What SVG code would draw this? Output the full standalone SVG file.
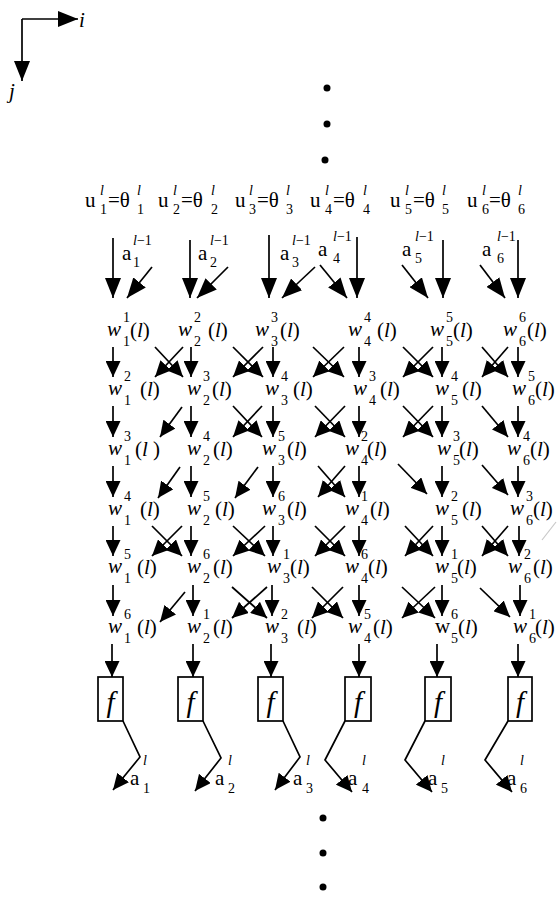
<svg xmlns="http://www.w3.org/2000/svg" width="560" height="897" viewBox="0 0 560 897">
<style>
text{font-family:"Liberation Serif","Times New Roman","DejaVu Serif",serif;fill:#000}
.m{font-size:21px}
.s{font-size:14px}
.it{font-style:italic}
.fx{font-size:29px;font-style:italic}
.ln{stroke:#000;stroke-width:1.7;fill:none}
.a{marker-end:url(#ah)}
.aL{marker-end:url(#ahL)}
.box{fill:#fff;stroke:#000;stroke-width:1.7}
</style>
<defs>
<marker id="ah" markerUnits="userSpaceOnUse" markerWidth="16" markerHeight="15" viewBox="0 0 16 15" refX="16" refY="7.5" orient="auto"><path d="M0,0 L16,7.5 L0,15 z" fill="#000"/></marker>
<marker id="ahL" markerUnits="userSpaceOnUse" markerWidth="20" markerHeight="16" viewBox="0 0 20 16" refX="20" refY="8" orient="auto"><path d="M0,0 L20,8 L0,16 z" fill="#000"/></marker>
</defs>
<rect width="560" height="897" fill="#fff"/>

<g id="axes">
<line class="ln aL" x1="22" y1="19" x2="78" y2="19"/>
<line class="ln aL" x1="22" y1="19" x2="22" y2="81"/>
<text class="m it" x="79" y="27">i</text>
<text class="m it" x="9" y="98">j</text>
</g>

<g id="dots">
<circle cx="327" cy="88" r="3.5"/><circle cx="327" cy="124" r="3.5"/><circle cx="325" cy="160" r="3.5"/>
<circle cx="323" cy="818" r="3.5"/><circle cx="323" cy="853" r="3.5"/><circle cx="323" cy="887" r="3.5"/>
</g>

<g id="thresholds">
<g id="u1"><text class="m" x="85" y="207">u</text><text class="s it" x="100" y="195">l</text><text class="s" x="100" y="214">1</text><text class="m" x="108" y="207">=θ</text><text class="s it" x="137" y="195">l</text><text class="s" x="137" y="214">1</text></g>
<g id="u2"><text class="m" x="158" y="207">u</text><text class="s it" x="173" y="195">l</text><text class="s" x="173" y="214">2</text><text class="m" x="181" y="207">=θ</text><text class="s it" x="211" y="195">l</text><text class="s" x="211" y="214">2</text></g>
<g id="u3"><text class="m" x="235" y="207">u</text><text class="s it" x="249" y="195">l</text><text class="s" x="249" y="214">3</text><text class="m" x="257" y="207">=θ</text><text class="s it" x="286" y="195">l</text><text class="s" x="286" y="214">3</text></g>
<g id="u4"><text class="m" x="310" y="207">u</text><text class="s it" x="325" y="195">l</text><text class="s" x="325" y="214">4</text><text class="m" x="333" y="207">=θ</text><text class="s it" x="363" y="195">l</text><text class="s" x="363" y="214">4</text></g>
<g id="u5"><text class="m" x="390" y="207">u</text><text class="s it" x="405" y="195">l</text><text class="s" x="405" y="214">5</text><text class="m" x="413" y="207">=θ</text><text class="s it" x="442" y="195">l</text><text class="s" x="442" y="214">5</text></g>
<g id="u6"><text class="m" x="467" y="207">u</text><text class="s it" x="482" y="195">l</text><text class="s" x="482" y="214">6</text><text class="m" x="489" y="207">=θ</text><text class="s it" x="518" y="195">l</text><text class="s" x="518" y="214">6</text></g>
</g>

<g id="inputs">
<g id="ain1"><text class="m" x="122" y="260">a</text><text class="s" x="133" y="245"><tspan class="it">l</tspan>−1</text><text class="s" x="133" y="267">1</text></g>
<g id="ain2"><text class="m" x="198" y="260">a</text><text class="s" x="210" y="245"><tspan class="it">l</tspan>−1</text><text class="s" x="210" y="267">2</text></g>
<g id="ain3"><text class="m" x="280" y="260">a</text><text class="s" x="292" y="245"><tspan class="it">l</tspan>−1</text><text class="s" x="292" y="267">3</text></g>
<g id="ain4"><text class="m" x="318" y="256">a</text><text class="s" x="333" y="241"><tspan class="it">l</tspan>−1</text><text class="s" x="333" y="263">4</text></g>
<g id="ain5"><text class="m" x="402" y="256">a</text><text class="s" x="415" y="241"><tspan class="it">l</tspan>−1</text><text class="s" x="415" y="263">5</text></g>
<g id="ain6"><text class="m" x="482" y="256">a</text><text class="s" x="497" y="241"><tspan class="it">l</tspan>−1</text><text class="s" x="497" y="263">6</text></g>
</g>

<g id="weights">
<g id="w-r1-c1"><text class="m it" x="107" y="336">w</text><text class="s" x="123" y="322">1</text><text class="s" x="123" y="346">1</text><text class="m" x="130" y="337">(<tspan class="it">l</tspan>)</text></g>
<g id="w-r1-c2"><text class="m it" x="178" y="336">w</text><text class="s" x="194" y="322">2</text><text class="s" x="194" y="346">2</text><text class="m" x="208" y="337">(<tspan class="it">l</tspan>)</text></g>
<g id="w-r1-c3"><text class="m it" x="255" y="336">w</text><text class="s" x="271" y="322">3</text><text class="s" x="271" y="346">3</text><text class="m" x="280" y="337">(<tspan class="it">l</tspan>)</text></g>
<g id="w-r1-c4"><text class="m it" x="348" y="336">w</text><text class="s" x="364" y="322">4</text><text class="s" x="364" y="346">4</text><text class="m" x="377" y="337">(<tspan class="it">l</tspan>)</text></g>
<g id="w-r1-c5"><text class="m it" x="430" y="336">w</text><text class="s" x="446" y="322">5</text><text class="s" x="446" y="346">5</text><text class="m" x="453" y="337">(<tspan class="it">l</tspan>)</text></g>
<g id="w-r1-c6"><text class="m it" x="503" y="336">w</text><text class="s" x="519" y="322">6</text><text class="s" x="519" y="346">6</text><text class="m" x="527" y="337">(<tspan class="it">l</tspan>)</text></g>

<g id="w-r2-c1"><text class="m it" x="108" y="395">w</text><text class="s" x="124" y="381">2</text><text class="s" x="124" y="405">1</text><text class="m" x="140" y="396">(<tspan class="it">l</tspan>)</text></g>
<g id="w-r2-c2"><text class="m it" x="187" y="395">w</text><text class="s" x="203" y="381">3</text><text class="s" x="203" y="405">2</text><text class="m" x="212" y="396">(<tspan class="it">l</tspan>)</text></g>
<g id="w-r2-c3"><text class="m it" x="265" y="395">w</text><text class="s" x="281" y="381">4</text><text class="s" x="281" y="405">3</text><text class="m" x="293" y="396">(<tspan class="it">l</tspan>)</text></g>
<g id="w-r2-c4"><text class="m it" x="353" y="395">w</text><text class="s" x="369" y="381">3</text><text class="s" x="369" y="405">4</text><text class="m" x="380" y="396">(<tspan class="it">l</tspan>)</text></g>
<g id="w-r2-c5"><text class="m it" x="435" y="395">w</text><text class="s" x="451" y="381">4</text><text class="s" x="451" y="405">5</text><text class="m" x="462" y="396">(<tspan class="it">l</tspan>)</text></g>
<g id="w-r2-c6"><text class="m it" x="512" y="395">w</text><text class="s" x="528" y="381">5</text><text class="s" x="528" y="405">6</text><text class="m" x="535" y="396">(<tspan class="it">l</tspan>)</text></g>

<g id="w-r3-c1"><text class="m it" x="108" y="455">w</text><text class="s" x="124" y="441">3</text><text class="s" x="124" y="465">1</text><text class="m" x="135" y="456">(<tspan class="it">l</tspan> )</text></g>
<g id="w-r3-c2"><text class="m it" x="187" y="455">w</text><text class="s" x="203" y="441">4</text><text class="s" x="203" y="465">2</text><text class="m" x="213" y="456">(<tspan class="it">l</tspan>)</text></g>
<g id="w-r3-c3"><text class="m it" x="262" y="455">w</text><text class="s" x="278" y="441">5</text><text class="s" x="278" y="465">3</text><text class="m" x="287" y="456">(<tspan class="it">l</tspan>)</text></g>
<g id="w-r3-c4"><text class="m it" x="345" y="455">w</text><text class="s" x="361" y="441">2</text><text class="s" x="361" y="465">4</text><text class="m" x="367" y="456">(<tspan class="it">l</tspan>)</text></g>
<g id="w-r3-c5"><text class="m it" x="437" y="455">w</text><text class="s" x="453" y="441">3</text><text class="s" x="453" y="465">5</text><text class="m" x="459" y="456">(<tspan class="it">l</tspan>)</text></g>
<g id="w-r3-c6"><text class="m it" x="507" y="455">w</text><text class="s" x="523" y="441">4</text><text class="s" x="523" y="465">6</text><text class="m" x="530" y="456">(<tspan class="it">l</tspan>)</text></g>

<g id="w-r4-c1"><text class="m it" x="108" y="515">w</text><text class="s" x="124" y="501">4</text><text class="s" x="124" y="525">1</text><text class="m" x="140" y="516">(<tspan class="it">l</tspan>)</text></g>
<g id="w-r4-c2"><text class="m it" x="187" y="515">w</text><text class="s" x="203" y="501">5</text><text class="s" x="203" y="525">2</text><text class="m" x="215" y="516">(<tspan class="it">l</tspan>)</text></g>
<g id="w-r4-c3"><text class="m it" x="262" y="515">w</text><text class="s" x="278" y="501">6</text><text class="s" x="278" y="525">3</text><text class="m" x="287" y="516">(<tspan class="it">l</tspan>)</text></g>
<g id="w-r4-c4"><text class="m it" x="345" y="515">w</text><text class="s" x="361" y="501">1</text><text class="s" x="361" y="525">4</text><text class="m" x="370" y="516">(<tspan class="it">l</tspan>)</text></g>
<g id="w-r4-c5"><text class="m it" x="435" y="515">w</text><text class="s" x="451" y="501">2</text><text class="s" x="451" y="525">5</text><text class="m" x="462" y="516">(<tspan class="it">l</tspan>)</text></g>
<g id="w-r4-c6"><text class="m it" x="510" y="515">w</text><text class="s" x="526" y="501">3</text><text class="s" x="526" y="525">6</text><text class="m" x="533" y="516">(<tspan class="it">l</tspan>)</text></g>

<g id="w-r5-c1"><text class="m it" x="108" y="573">w</text><text class="s" x="124" y="559">5</text><text class="s" x="124" y="583">1</text><text class="m" x="137" y="574">(<tspan class="it">l</tspan>)</text></g>
<g id="w-r5-c2"><text class="m it" x="187" y="573">w</text><text class="s" x="203" y="559">6</text><text class="s" x="203" y="583">2</text><text class="m" x="213" y="574">(<tspan class="it">l</tspan>)</text></g>
<g id="w-r5-c3"><text class="m it" x="267" y="573">w</text><text class="s" x="283" y="559">1</text><text class="s" x="283" y="583">3</text><text class="m" x="290" y="574">(<tspan class="it">l</tspan>)</text></g>
<g id="w-r5-c4"><text class="m it" x="345" y="573">w</text><text class="s" x="361" y="559">6</text><text class="s" x="361" y="583">4</text><text class="m" x="368" y="574">(<tspan class="it">l</tspan>)</text></g>
<g id="w-r5-c5"><text class="m it" x="435" y="573">w</text><text class="s" x="451" y="559">1</text><text class="s" x="451" y="583">5</text><text class="m" x="457" y="574">(<tspan class="it">l</tspan>)</text></g>
<g id="w-r5-c6"><text class="m it" x="508" y="573">w</text><text class="s" x="524" y="559">2</text><text class="s" x="524" y="583">6</text><text class="m" x="533" y="574">(<tspan class="it">l</tspan>)</text></g>

<g id="w-r6-c1"><text class="m it" x="108" y="633">w</text><text class="s" x="124" y="619">6</text><text class="s" x="124" y="643">1</text><text class="m" x="137" y="634">(<tspan class="it">l</tspan>)</text></g>
<g id="w-r6-c2"><text class="m it" x="187" y="633">w</text><text class="s" x="203" y="619">1</text><text class="s" x="203" y="643">2</text><text class="m" x="213" y="634">(<tspan class="it">l</tspan>)</text></g>
<g id="w-r6-c3"><text class="m it" x="265" y="633">w</text><text class="s" x="281" y="619">2</text><text class="s" x="281" y="643">3</text><text class="m" x="297" y="634">(<tspan class="it">l</tspan>)</text></g>
<g id="w-r6-c4"><text class="m it" x="348" y="633">w</text><text class="s" x="364" y="619">5</text><text class="s" x="364" y="643">4</text><text class="m" x="373" y="634">(<tspan class="it">l</tspan>)</text></g>
<g id="w-r6-c5"><text class="m" x="435" y="633">w</text><text class="s" x="451" y="619">6</text><text class="s" x="451" y="643">5</text><text class="m" x="458" y="634">(<tspan class="it">l</tspan>)</text></g>
<g id="w-r6-c6"><text class="m it" x="513" y="633">w</text><text class="s" x="529" y="619">1</text><text class="s" x="529" y="643">6</text><text class="m" x="535" y="634">(<tspan class="it">l</tspan>)</text></g>
</g>

<g id="activations">
<g id="f1"><rect class="box" x="98" y="677" width="25" height="44"/><text class="fx" x="110.5" y="712" text-anchor="middle">f</text></g>
<g id="f2"><rect class="box" x="178" y="677" width="25" height="44"/><text class="fx" x="190.5" y="712" text-anchor="middle">f</text></g>
<g id="f3"><rect class="box" x="258" y="677" width="25" height="44"/><text class="fx" x="270.5" y="712" text-anchor="middle">f</text></g>
<g id="f4"><rect class="box" x="345" y="677" width="26" height="44"/><text class="fx" x="358" y="712" text-anchor="middle">f</text></g>
<g id="f5"><rect class="box" x="425" y="677" width="26" height="44"/><text class="fx" x="438" y="712" text-anchor="middle">f</text></g>
<g id="f6"><rect class="box" x="508" y="677" width="24" height="44"/><text class="fx" x="520" y="712" text-anchor="middle">f</text></g>
</g>

<g id="outputs">
<g id="aout1"><text class="m" x="130" y="785">a</text><text class="s it" x="143" y="765">l</text><text class="s" x="143" y="793">1</text></g>
<g id="aout2"><text class="m" x="215" y="785">a</text><text class="s it" x="228" y="765">l</text><text class="s" x="228" y="793">2</text></g>
<g id="aout3"><text class="m" x="293" y="785">a</text><text class="s it" x="306" y="765">l</text><text class="s" x="306" y="793">3</text></g>
<g id="aout4"><text class="m" x="348" y="785">a</text><text class="s it" x="362" y="765">l</text><text class="s" x="362" y="793">4</text></g>
<g id="aout5"><text class="m" x="428" y="785">a</text><text class="s it" x="441" y="765">l</text><text class="s" x="441" y="793">5</text></g>
<g id="aout6"><text class="m" x="507" y="785">a</text><text class="s it" x="520" y="765">l</text><text class="s" x="520" y="793">6</text></g>
</g>

<g id="connectors">
<line class="ln aL" x1="113" y1="238" x2="113" y2="298"/>
<line class="ln aL" x1="190" y1="240" x2="190" y2="298"/>
<line class="ln aL" x1="269" y1="235" x2="269" y2="298"/>
<line class="ln aL" x1="357" y1="237" x2="357" y2="298"/>
<line class="ln aL" x1="443" y1="240" x2="443" y2="298"/>
<line class="ln aL" x1="518" y1="240" x2="518" y2="298"/>
<line class="ln aL" x1="152" y1="267" x2="127" y2="298"/>
<line class="ln aL" x1="228" y1="267" x2="197" y2="298"/>
<line class="ln aL" x1="315" y1="267" x2="282" y2="298"/>
<line class="ln aL" x1="320" y1="265" x2="347" y2="298"/>
<line class="ln aL" x1="402" y1="265" x2="428" y2="298"/>
<line class="ln aL" x1="480" y1="265" x2="505" y2="298"/>

<line class="ln a" x1="113" y1="347" x2="113" y2="377"/>
<line class="ln a" x1="191" y1="347" x2="191" y2="377"/>
<line class="ln a" x1="273" y1="347" x2="273" y2="377"/>
<line class="ln a" x1="359" y1="347" x2="359" y2="377"/>
<line class="ln a" x1="442" y1="347" x2="442" y2="377"/>
<line class="ln a" x1="518" y1="347" x2="518" y2="377"/>
<line class="ln a" x1="155" y1="347" x2="183" y2="377"/><line class="ln a" x1="183" y1="347" x2="155" y2="377"/>
<line class="ln a" x1="233" y1="347" x2="263" y2="377"/><line class="ln a" x1="263" y1="347" x2="233" y2="377"/>
<line class="ln a" x1="313" y1="347" x2="344" y2="377"/><line class="ln a" x1="344" y1="347" x2="313" y2="377"/>
<line class="ln a" x1="403" y1="347" x2="433" y2="377"/><line class="ln a" x1="433" y1="347" x2="403" y2="377"/>
<line class="ln a" x1="482" y1="347" x2="508" y2="377"/><line class="ln a" x1="508" y1="347" x2="482" y2="377"/>

<line class="ln a" x1="113" y1="406" x2="113" y2="437"/>
<line class="ln a" x1="191" y1="406" x2="191" y2="437"/>
<line class="ln a" x1="273" y1="406" x2="273" y2="437"/>
<line class="ln a" x1="359" y1="406" x2="359" y2="437"/>
<line class="ln a" x1="442" y1="406" x2="442" y2="437"/>
<line class="ln a" x1="518" y1="406" x2="518" y2="437"/>
<line class="ln a" x1="182" y1="407" x2="160" y2="437"/>
<line class="ln a" x1="233" y1="406" x2="262" y2="437"/><line class="ln a" x1="262" y1="406" x2="233" y2="437"/>
<line class="ln a" x1="315" y1="406" x2="345" y2="437"/><line class="ln a" x1="345" y1="406" x2="315" y2="437"/>
<line class="ln a" x1="403" y1="406" x2="433" y2="437"/><line class="ln a" x1="433" y1="406" x2="403" y2="437"/>
<line class="ln a" x1="482" y1="406" x2="508" y2="437"/>

<line class="ln a" x1="113" y1="466" x2="113" y2="497"/>
<line class="ln a" x1="191" y1="466" x2="191" y2="497"/>
<line class="ln a" x1="273" y1="466" x2="273" y2="497"/>
<line class="ln a" x1="359" y1="466" x2="359" y2="497"/>
<line class="ln a" x1="442" y1="466" x2="442" y2="497"/>
<line class="ln a" x1="518" y1="466" x2="518" y2="497"/>
<line class="ln a" x1="180" y1="467" x2="158" y2="498"/>
<line class="ln a" x1="258" y1="467" x2="235" y2="498"/>
<line class="ln a" x1="318" y1="466" x2="345" y2="497"/><line class="ln a" x1="345" y1="466" x2="318" y2="497"/>
<line class="ln a" x1="398" y1="464" x2="427" y2="494"/>
<line class="ln a" x1="482" y1="465" x2="508" y2="495"/>

<line class="ln a" x1="113" y1="526" x2="113" y2="556"/>
<line class="ln a" x1="191" y1="526" x2="191" y2="556"/>
<line class="ln a" x1="273" y1="526" x2="273" y2="556"/>
<line class="ln a" x1="359" y1="526" x2="359" y2="556"/>
<line class="ln a" x1="442" y1="526" x2="442" y2="556"/>
<line class="ln a" x1="519" y1="526" x2="519" y2="556"/>
<line class="ln a" x1="152" y1="526" x2="182" y2="556"/><line class="ln a" x1="182" y1="526" x2="152" y2="556"/>
<line class="ln a" x1="233" y1="526" x2="265" y2="556"/><line class="ln a" x1="265" y1="526" x2="233" y2="556"/>
<line class="ln a" x1="315" y1="526" x2="345" y2="556"/><line class="ln a" x1="345" y1="526" x2="315" y2="556"/>
<line class="ln a" x1="405" y1="526" x2="433" y2="556"/><line class="ln a" x1="433" y1="526" x2="405" y2="556"/>
<line class="ln a" x1="482" y1="526" x2="508" y2="556"/><line class="ln a" x1="508" y1="526" x2="482" y2="556"/>

<line class="ln a" x1="113" y1="585" x2="113" y2="616"/>
<line class="ln a" x1="193" y1="585" x2="193" y2="616"/>
<line class="ln a" x1="272" y1="585" x2="272" y2="616"/>
<line class="ln a" x1="359" y1="585" x2="359" y2="616"/>
<line class="ln a" x1="442" y1="585" x2="442" y2="616"/>
<line class="ln a" x1="520" y1="585" x2="520" y2="616"/>
<line class="ln a" x1="185" y1="592" x2="160" y2="622"/>
<line class="ln a" x1="232" y1="587" x2="267" y2="618"/><line class="ln a" x1="267" y1="587" x2="232" y2="618"/>
<line class="ln a" x1="312" y1="587" x2="343" y2="618"/><line class="ln a" x1="343" y1="587" x2="312" y2="618"/>
<line class="ln a" x1="402" y1="587" x2="435" y2="618"/><line class="ln a" x1="435" y1="587" x2="402" y2="618"/>
<line class="ln a" x1="480" y1="588" x2="510" y2="617"/>

<line class="ln a" x1="112" y1="644" x2="112" y2="677"/>
<line class="ln a" x1="193" y1="644" x2="193" y2="677"/>
<line class="ln a" x1="271" y1="644" x2="271" y2="677"/>
<line class="ln a" x1="359" y1="644" x2="359" y2="677"/>
<line class="ln a" x1="437" y1="644" x2="437" y2="677"/>
<line class="ln a" x1="518" y1="644" x2="518" y2="677"/>

<polyline class="ln a" points="123,721 140,757 113,790"/>
<polyline class="ln a" points="203,721 221,758 195,791"/>
<polyline class="ln a" points="283,721 300,757 275,790"/>
<polyline class="ln a" points="345,721 325,760 352,792"/>
<polyline class="ln a" points="425,721 405,760 432,792"/>
<polyline class="ln a" points="508,721 485,760 512,792"/>

<line x1="556" y1="522" x2="542" y2="540" stroke="#c8c8c8" stroke-width="1.2"/>
</g>
</svg>
